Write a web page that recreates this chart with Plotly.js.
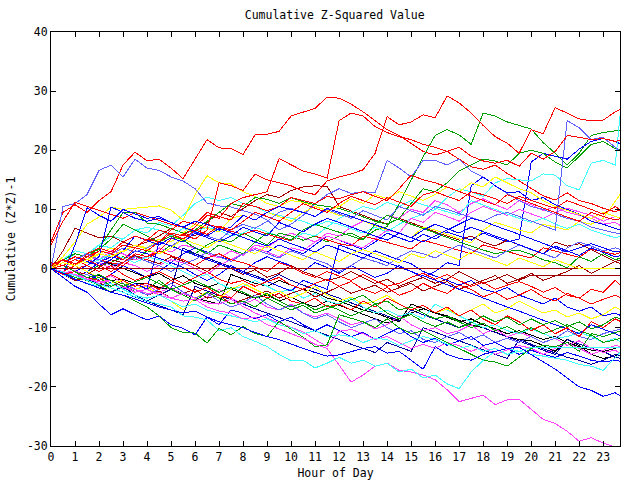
<!DOCTYPE html>
<html>
<head>
<meta charset="utf-8">
<script src="https://cdn.plot.ly/plotly-3.0.1.min.js"></script>
<style>
  html, body { margin: 0; padding: 0; background: #ffffff; }
  #chart { width: 640px; height: 480px; }
  .js-plotly-plot .scatterlayer path.js-line { shape-rendering: crispEdges; }
</style>
</head>
<body>
<div id="chart"></div>
<script>
// Sample times (hour of day)
const hours = [0,0.5,1,1.5,2,2.5,3,3.5,4,4.5,5,5.5,6,6.5,7,7.5,8,8.5,9,9.5,10,10.5,11,11.5,
  12,12.5,13,13.5,14,14.5,15,15.5,16,16.5,17,17.5,18,18.5,19,19.5,20,20.5,21,21.5,22,22.5,23,23.5,23.75];
const xTicks = [0,1,2,3,4,5,6,7,8,9,10,11,12,13,14,15,16,17,18,19,20,21,22,23];
const yTicks = [-30,-20,-10,0,10,20,30,40];

// Cumulative (Z*Z)-1 series
const red1 = [4.5,9.5,10.8,9.5,11.5,13,17.5,19.7, 18.2,18.5,17,15.2,18.5,21.8,20.4,20.3, 19.3,22.6,22.7,23.2,25.8,26.4,27.1,29, 28.8,27.8,26.5,25,23.5,22.5,21.2,19.8, 19.2,19.8,18.5,17.2,16.8,17.5,16.1,14.8, 13.5,12.3,11.6,12.8,11.5,11,10.2,9.6, 10];
const red2 = [4,8,11.2,10.5,9.8,9.2,8.5,9.5, 8.8,8.2,7.5,7,6.3,7.5,7,6.3, 5.8,6.5,5.8,5.2,4.7,6,5.5,4.8, 4.2,3.8,5.5,5,4.4,3.8,3.3,4.8, 4.2,3.7,3,2.5,4,3.5,2.9,2.3, 1.8,3.5,3,2.4,1.9,3.3,2.8,2.4, 2.8];
const red3 = [1,0.5,0,0.5,1.5,1,0.5,2, 1.5,3,5,5.8,5,6.5,14.5,14, 13.2,16,15,14.5,14,13,12.5,14.8, 15.5,16,16.7,19.5,25.7,24.3,24.8,26, 25.5,29.2,28,26.3,24.2,22.3,21.2,19.5, 23.5,22.8,27.2,26.3,25.3,25,25.1,26.5, 27];
const red4 = [0,-0.5,0.5,2,3,2.5,1.5,3.5, 3,4.5,6,5.5,7,9,8.5,11, 12,12.5,13,18.6,17.5,16.5,16,15.3, 25,26.3,25.8,24,23,22.3,21.8,21, 20.5,19.8,20.5,19,18.2,17.8,18.3,17.3, 19.5,18.5,19.8,22.5,22.2,21.8,22,21.5, 21.7];
const red5 = [0.5,1.5,0.8,1.5,3,2.5,4,3.5, 5,4.5,6.5,8,7.5,9.5,8.8,8.2, 11,10.5,9.8,10.5,12,11.5,11,12.2, 11.8,12.5,13,12.2,11.5,13.5,15.8,15, 14.5,13.8,13,12.2,11.5,10.8,12.5,11.8, 11,10.2,9.5,8.7,8,9.5,8.8,8.2, 8.5];
const red6 = [0,-1,-0.5,-1.5,-2,-1,-2,-3, -2.5,-3.5,-2,-3,-4,-3.2,-4.5,-5, -3,-4,-5,-4.2,-5.5,-6,-5,-6.5, -6,-7,-5.5,-6.5,-5,-6,-7,-6.2, -7.5,-6.5,-8,-7,-8.5,-9.5,-8,-9, -10.5,-9.5,-11,-10,-11.5,-9,-10,-8.5, -9];
const red7 = [0,1,2,1.5,0.5,-0.5,1,2.5, 2,3,2.2,1.5,0.5,1.8,2.5,1.5, 1,0.2,-0.5,1,0.3,-0.8,-1.5,-0.5, -1.2,-2,-1,-2,-3,-2.5,-1.5,-0.8, -1.8,-1,-2,-3,-2.3,-3.5,-2.8,-2.2, -3,-4,-3.2,-4.5,-5,-3.5,-4,-2, -3];
const red8 = [0,1.5,0.5,2.5,3.5,2.8,4.5,5.5, 4.8,6.5,5.8,5,6.5,5.8,7.2,6.5, 8,9.5,8.8,8,9.5,11,10.2,9.5, 11,12.2,11.5,10.8,12,11.2,10.5,12.5, 13,12.2,11.5,13,12.5,11.8,11,12.2, 11.5,10.8,10.2,11.5,10.8,10,9.2,10.5, 9.8];
const red9 = [0,0.5,1.5,0.5,-0.5,0.5,-1,-2, -1.2,-0.5,-1.5,-2.5,-1.5,-0.5,-1.8,-2.5, -2,-3,-2.2,-1.5,-2.8,-3.5,-2.5,-1.8, -3,-2.2,-3.5,-4.2,-3.2,-4.5,-3.8,-2.5, -3.5,-4.2,-2.8,-3.5,-4.8,-4,-5.2,-4.5, -3.5,-4.8,-5.5,-4.2,-5,-6,-5.2,-4.5, -5];

const green1 = [0,1,0.5,-0.5,0.5,1,2,1.5, 3,2.5,4,3,2.5,4,5,4.5, 6,5,4,6,5.5,4.8,5.5,4.5, 5.5,6,5,6.5,7.1,11,15,18.9, 22.5,23.5,22.6,21,26.3,25.8,24.8,24.2, 23.6,21.3,19.5,17.5,19.5,22.5,23,23.3, 23.4];
const green2 = [0.5,1.5,2.5,2,3.5,6.5,9.5,9.5, 7.7,7.5,6.8,6,6.5,8,9.5,11, 10.5,12,11.7,11,12,11.3,10.8,10.5, 10.2,9.5,8.7,8,7.5,8.5,11,13.5, 13,14.5,16.5,17.5,18.5,18.2,17.5,19.5, 20,19.5,18,17,19,21,21.5,20.3, 20];
const green3 = [0,0.5,1.5,2.5,3.2,5,7.5,6.5, 5.5,4.5,5.5,4.8,3.5,2.5,4,3.2, 2.5,4.5,6,5.5,4.8,6.5,7.5,6.8, 6.2,5.5,4.8,7.5,9,8.2,7.5,6.8, 6,5.2,4.5,3.8,3.2,2.5,2.9,3.1, 2.4,1.5,1,0.1,2,1.2,2.5,1.5, 1.8];
const green4 = [0,-1,-0.5,-2,-1.5,-3,-2.5,-4, -3.5,-2,-3.5,-4.5,-5.5,-4,-5,-6, -5.5,-6.5,-5,-6,-7,-6.2,-7.5,-6.8, -6,-5.2,-4.5,-6,-5.5,-7,-6.5,-7.5, -8.5,-8,-9,-10,-9.2,-10.5,-9.8,-10.8, -10,-11,-10.3,-9.5,-10.5,-11.2,-12.5,-12, -11.8];
const green5 = [0,0.5,-0.5,-1.5,-1,-2,-3,-2.2, -1.5,-2.5,-3.5,-2.8,-2,-3,-4,-3.2, -4,-5,-4.2,-5.5,-6.5,-5.8,-7,-6.2, -7,-8,-7.2,-6,-7.5,-8.5,-7.8,-9, -9.8,-9,-10,-9.2,-8,-9,-8.2,-9.5, -8.5,-9.5,-8.8,-9.8,-9,-10.2,-9.5,-8.2, -8.5];
const greenLow = [0,-0.8,-1.5,-2,-2.8,-4,-4.5,-5.5, -6.5,-8,-10,-10.8,-10.9,-12.6,-10.1,-11.2, -9.8,-11,-11.5,-8.9,-10.2,-11.6,-13.2,-12.9, -7.8,-8.4,-9,-10,-8.5,-10,-11,-10.5, -11.5,-12.5,-13.5,-14.5,-15.5,-15.8,-16.5,-15, -13.5,-13,-13.2,-12.5,-14,-11,-11.5,-10.8, -10.5];

const magenta1 = [0,1,0.5,2,1.5,3,2.5,1.5, 2,3.5,2.8,4,3.5,2.5,1.8,3, 2.2,4,3.5,5,6,5.2,4.5,6, 5.5,7,8,7.5,9,8.5,10,9.5, 11.5,10.8,9.5,11,11.8,10.8,10,11.5, 10.8,9.8,10.5,9.5,9,8.5,7.5,7.8, 7.2];
const magenta2 = [0,-0.5,0.5,1.5,1,0,1,0.5, -0.5,0.5,1.5,1,0,-1,0.5,1.5, 2.5,3.5,2.8,2,3.5,3,4.5,5.5, 4.8,4.2,3.5,5,6.5,6,8.5,7.8, 9.5,8.8,8,9.5,10.5,9.8,9,10, 9.2,8.5,9.5,10.2,9.6,9,8,8.8, 8.5];
const magenta3 = [0,-0.8,-0.3,-1.5,-2,-1.2,-2.5,-3.5, -2.8,-4,-3.2,-4.5,-5.5,-4.8,-3.5,-5, -6,-5.2,-6.5,-7,-6,-7.5,-8.2,-7.5, -8.5,-9.5,-9,-10.2,-9.5,-8,-9.5,-10.5, -10,-11,-10.5,-9.5,-11,-10.2,-11.5,-10.8, -11.5,-12.5,-11.8,-13,-12.2,-13.5,-14.2,-13.8, -14.5];
const magenta4 = [0,-0.5,-1,-1.5,-2.5,-2,-3,-4, -3.5,-4.5,-5,-4.2,-5,-5.8,-6,-5.2, -6.4,-7.5,-8.4,-9.2,-10,-10.7,-12,-13.2, -10.6,-10.3,-11,-12,-11.5,-12.5,-13.5,-12.8, -13.5,-12.5,-13,-14,-13.2,-14.5,-13.8,-13, -13.5,-14.5,-13.5,-12.5,-13.5,-14.5,-13.8,-13, -13.2];
const magentaLow = [0,-0.5,-1,-1.8,-2.2,-2,-3.2,-3.5, -4.2,-4,-5,-5.5,-5.2,-6.5,-7.2,-7.5, -8.5,-8.2,-9.5,-10.2,-11,-11.8,-12.8,-13.5, -16.3,-19.2,-18,-16.5,-16,-17.2,-17.5,-18, -18.8,-20.5,-22.5,-21.9,-21.4,-23,-22.2,-22.1, -23.8,-25.5,-26.2,-27.5,-29.2,-28.6,-29.5,-30.2, -30.8];

const cyan1 = [0,1,2.5,2,4,5.5,5,6.5, 6,7.8,7.2,9,11,12.1,11.5,12, 11,10.5,9.5,9,8.5,8,7.2,8, 7.5,6.8,6,7,6.2,7.5,8.5,9.2, 10,12,13.5,13,12.2,14.5,15.2,15, 14.8,16,15.8,14,13.3,17.8,18.3,17.5, 27.8];
const cyan2 = [0,1.5,3,2.5,4,3.5,5,6.5, 7,6.5,5.5,6.8,6.2,7,6.5,5.5, 6,7,6.2,5.5,4.8,6,5.5,7, 8.5,9.5,10.5,10,11.2,10.5,11.5,10.8, 10.2,9.5,9,11.5,10.8,10,9.2,8.5, 7.8,8.5,7.5,6.8,7.5,6.5,5.8,5.2, 5.5];
const cyan3 = [0,0.5,-0.5,0.5,1.5,2.5,1.8,1, 2,1.5,0.5,-0.5,-1.5,-1,-2.5,-3.5, -3,-2,-3,-4,-3.5,-5,-4.2,-5.5, -6,-5,-6.5,-7.5,-7,-8,-7.5,-8.5, -6,-7,-8,-9,-10,-9.5,-10.5,-11, -10.2,-11,-11.8,-11.5,-10.8,-11.5,-12.5,-11.8, -12.5];
const cyan4 = [0,-1,-1.8,-2.5,-3,-2.5,-3.5,-4.5, -5,-4.5,-5.5,-6.5,-6,-7,-7.5,-8, -8.5,-9,-8.5,-9.5,-10,-11,-10.5,-11.5, -11.2,-11.5,-12.5,-11.8,-12,-13,-12.2,-11.5, -12,-12.8,-13.5,-13,-14,-13.5,-14.5,-14, -14.5,-14.8,-15.2,-15.5,-16.2,-16.5,-17.2,-15, -14];
const cyanLow = [0,-0.6,-1.2,-2,-2.6,-3.3,-4,-4.8, -5.5,-6,-6.5,-8,-8.2,-8.7,-10.5,-10, -11.5,-12.3,-13.2,-14.5,-15.6,-15.5,-16.8,-16, -15,-16,-15.5,-16.5,-16,-17.5,-17,-18.5, -18,-19.5,-20.3,-17.5,-15.5,-14,-13.5,-14, -13.3,-13.3,-13.3,-13.3,-13.3,-13.3,-13.3,-13.3, -13.3];

const yellow1 = [0,2,4.5,7.5,8.7,10.4,10,10.2, 10.5,10.6,9.9,8.2,12.5,15.7,14.5,14.3, 13,12.2,11,10.5,11.5,11.2,10.5,9.8, 9,8.8,8,7.2,6.5,6,5.2,7, 6.5,5.8,5,4.3,6.5,7.8,7.2,6.5, 6,7.5,7,6.5,8,7.5,8.5,11.5, 12.8];
const yellow2 = [0,0.5,1.5,1,2.5,3.5,2.8,4, 3.5,5,4.5,6,7.5,6.8,6.2,8.5, 9,8.2,9.5,8.8,8,9.5,10.5,9.8, 10.5,11.8,11,12.5,11.8,13,12.2,11.5, 12.5,13.8,13,14.5,13.8,15.5,14.5,13.5, 12.8,11.5,10.5,9.8,9.2,8.5,9.5,8.8, 8.5];
const yellow3 = [0,-0.5,0.5,-0.5,-1.5,-2.5,-2,-3.5, -3,-4.5,-5.5,-7,-5,-4,-5,-3.5, -2.5,-3.5,-4.5,-3.8,-5,-4.2,-3,-4.5, -5.5,-4.8,-6,-5.5,-4.5,-6,-7,-6.2, -7.5,-6.8,-8,-7,-6,-7.5,-6.8,-5.5, -6.5,-7.5,-7,-8.2,-7.5,-8.5,-7.8,-6.5, -7];
const yellow4 = [0,1,0.5,1.5,2.5,2,3,4, 3.2,2.5,3.5,5,4.2,3.5,4.8,4, 3.2,2.5,3.8,3,2.2,1.5,2.8,2, 1.2,2.5,3.2,2.5,1.8,1,2.5,1.8, 3,2.2,1.5,2.8,2,1.2,0.5,1.8, 1,0.3,1.5,0.8,0,0,0,0, 0];

const darkred1 = [0,0,0,0,0,0,0,0, 0,0,0,0,0,0,0,0, 0,0,0,0,0,0,0,0, 0,0,0,0,0,0,0,0, 0,0,0,0,0,0,0,0, 0,0,0,0,0,0,0,0, 0];
const darkred2 = [0,0.5,-0.5,-1,0.2,1.5,1,2.2, 1.5,0.8,2,1.2,0.5,-0.5,0.8,0, -1,-0.2,-1.5,-0.8,0.5,-0.5,-1.2,-2, -1.5,-0.5,-1.5,-2.5,-1.8,-3,-2.2,-1.5, -2.5,-1.8,-0.5,-1.5,-2.5,-1.8,-1,-2, -1.1,-1.1,-1.1,-1.1,-1.1,-1.1,-1.1,-1.1, -1.1];
const darkred3 = [0,3,6.8,6,5.2,5.5,4.5,3.8, 4.5,5.5,6.8,6,5.5,7.8,9.5,8.8, 10.2,11.5,12.5,12,13.2,13.8,14,13.9, 10.5,9.8,9,8.2,7.5,8.5,7.8,7, 6.2,5.5,4.8,5.5,4.5,3.8,4.8,4, 3.2,2.5,4.5,3.8,4.2,3.2,2.2,1.2, 1.5];
const darkred4 = [0,-1,-2,-1.5,-2.5,-3,-2,-3.5, -4.5,-3.8,-5,-4.2,-3.5,-5,-4.5,-6, -5.2,-4.5,-3.8,-5,-4.2,-3.5,-4.8,-4, -3,-4.2,-3.5,-2.8,-4,-3.2,-2.5,-3.8, -3,-2.2,-3.5,-2.8,-2,-1.2,-2.5,-1.8, -0.8,-2,-1.2,-0.5,0.5,-0.8,0.2,1.2, 0.8];

const lightblue1 = [0,10.5,11,12.5,16.6,17.5,15.5,18.5, 17,16.6,15.5,14.8,13.5,11.1,10.6,10.4, 9.8,9.2,8.2,6.5,7.5,9,11,12.5, 13.5,12.7,13,12.8,18.3,17,15.5,18.3, 18.3,17.5,18.5,16.5,15.5,14,12.7,11.5, 10.5,10,9.2,8.5,8,7,6.5,6, 5.8];
const lightblue2 = [0,-0.5,0.5,1.5,1,2.5,3.5,2.8, 3.5,4.5,3.8,5,6.2,5.5,4.8,6.5, 7.5,6.8,8,9.5,10.2,9.5,8.8,10, 9.2,8.5,9.8,9,8.2,10.5,9.8,9, 10.5,10,9.3,8.7,8,9,9.5,8.8, 8,7.2,6.5,25,23.8,21.8,22.2,20.5, 19.8];
const lightblue3 = [0,-0.5,-1.5,-1,-2,-3,-2.5,-3.5, -4.5,-3.5,-2.5,-4,-5,-4.2,-5.5,-6.5, -5.8,-4.5,-6,-7,-6.2,-7.5,-8.5,-7.8, -9,-10,-9.2,-8.5,-10,-11,-10.5,-12, -12.5,-11.5,-10.8,-12,-11.2,-12.5,-11.8,-12.5, -11.5,-12.5,-11.8,-10.5,-11.5,-12,-11,-10.5, -10.2];
const lightblue4 = [0,0.5,1.5,2.5,1.5,0.5,1,2, 1.2,0.5,-0.5,0.8,1.5,2.8,2,1.2, 2.5,3.2,2.5,1.8,3,2.2,1.5,0.8, -0.5,0.5,1.8,1.2,0.5,2,3,2.5, 1.8,3,4,3.2,2.5,1.8,3,4, 3.2,2.5,1.8,3.5,4.5,3.8,3,3.5, 3.2];

const blue1 = [0,1,0.5,-0.5,1,2,1.5,3, 2.5,1.8,1,2.5,3.5,2.8,2,1.5, 2.5,3.5,2.8,4,3.2,2.5,4,5.5, 4.8,4,3.2,4.5,6,5.2,4.5,5.8, 5,6.2,5.5,4.8,6,5.2,4.5,5, 18,19.5,19,18.5,20.2,21.5,22,21.5, 21];
const blue2 = [0,-0.5,-1.5,-0.5,-2,-1,0.5,-0.5, -1.5,-0.5,1,0.2,-1,-2,-1,0.5, -0.5,1,2,1.2,0.5,-0.5,1,0.2, -0.8,0.5,-0.5,-1.5,-0.8,0.5,-0.5,-1.5, -0.5,1,0.5,14,15.5,14,12.8,13, 11.5,12,10.8,10,9.2,8,7.5,6.8, 6.5];
const blue3 = [0,-1,4,10.3,9,8,10,9.3, 8.5,8.8,7.8,7,6.2,5.5,6.8,6, 5.2,4.5,3.8,5,4.2,3.5,2.8,4, 3.2,2.5,1.8,3,2.2,1.5,0.8,-0.5, -1.2,-2,-2.8,-2,-3.5,-4,-3.2,-4.5, -5.2,-6,-5,-6.5,-7.2,-6.5,-8,-7.5, -8];
const blue4 = [0,-0.5,-1.2,-2,-1,-2.5,-3.5,-2.5, -3.5,4.5,3.8,3,2.2,1.5,0.8,0, -0.8,-1.5,-2.2,-3,-3.8,-2,-2.8,-3.5, 4,3.2,2.5,1.8,1,0.2,-0.5,-1.2, -2,-2.8,-3.5,-4.2,-5,-5.8,-6.5,-7.2, -8,-8.8,-9.5,-10.2,-11,-9.5,-10.2,-11, -11.5];
const blue5 = [0,0.5,-0.5,0.5,2,10.4,9.5,8.5, 8,8.5,7.8,7,8,7.5,6.5,7, 9,8.2,9.5,10.5,10,9.5,8.8,10.2, 9.5,8.8,8.2,7.5,6.8,6,5.2,4.5, 5.5,6.5,7.5,8.5,8,7.2,6.5,5.8, 5,4.2,3.5,2.8,3.5,4.2,3.5,2.8, 3];
const blue6 = [0,1,2,1.2,0.5,1.5,3,5.5, 4.8,4,5.2,4.5,6,5.2,4.5,5.5, 7,6.2,5.5,7.8,7,6.2,7.5,8.5, 7.8,7,6.2,5.5,4.8,6,5.2,6.5, 7.5,6.8,6,7,6.2,5.5,4.8,4, 3.2,2.5,3.8,3,2.2,3.5,2.8,2, 2.2];
const blueA = [0,-1.5,-3,-4,-6,-7.8,-6.8,-7.8, -8.7,-8,-9.5,-10.1,-11.2,-8.2,-9.5,-7, -7.5,-8.5,-7.8,-9,-8.2,-9.5,-10.5,-9.5, -10.5,-11.5,-10.8,-12,-11,-10,-11.5,-12.5, -11.8,-13,-12.2,-11.5,-13,-12.5,-13.5,-14.5, -13.8,-14.5,-15,-14.2,-14.8,-15.5,-15.8,-15.5, -15.7];
const blueLow = [0,-0.8,-1.8,-2.5,-3.2,-4,-4.5,-5.2, -5.8,-6.5,-7,-7.5,-7.2,-8.2,-9,-9.5, -10,-10.8,-11.5,-12,-12.8,-13.5,-14.2,-14.8, -14.6,-14,-13.5,-13.2,-14.3,-14,-15.5,-17, -13.2,-14.5,-15.2,-15.5,-14.5,-14,-13.5,-13.3, -14.5,-15.8,-17,-18.5,-20,-20.6,-21.6,-21, -21.6];
const navy1 = [0,-1,-2,-1.5,-3,-4,-3,-4.5, -5.5,-4.5,-3.5,3.5,2.5,1.8,1,0.2, -0.5,-1.2,-2,-1,-2,-2.8,-3.5,-4.2, -5,-5.8,-6.5,-7.2,-8,-8.8,-7,-7.8, -8.5,-9.2,-10,-9,-10,-10.8,-11.5,-12.2, -13,-13.8,-14.5,-12,-12.8,-13.5,-14,-15, -15.2];
const navy2 = [0,-0.5,-1,-1.8,-2.5,-3.2,-4,-4.8, -5.5,-6.2,-7,-7.8,-3,-3.8,-4.5,-5.2, -6,-6.8,-7.5,-8.2,-9,-9.8,-10.5,-11.2, -12,-12.8,-13.5,-14.2,-12.5,-13.2,-14,-10, -10.8,-11.5,-12.2,-13,-13.8,-14.5,-15.2,-12, -12.8,-13.5,-14.2,-15,-15.5,-16.2,-15.5,-14.5, -14.8];

const black1 = [0,-0.5,-1,-1.5,-1.2,-2,-1.8,-2.5, -2.5,-3.2,-3.5,-4.2,-5,-5.5,-6,-1, -1.8,-2.5,-3,-2,-2.8,-3.5,-4,-5, -5.5,-6.2,-7,-7.5,-8.2,-9,-6,-6.8, -7.5,-8,-8.8,-9.5,-10,-10.8,-11.5,-12, -12.2,-13,-14,-12,-13,-14.5,-15.2,-14.8, -14.2];
const black2 = [0,0.5,-0.5,0.5,1.5,0.8,0,-0.8, -1.5,-0.8,-2,-1.2,-2.5,-3.2,-2.5,-3.5, -4.2,-5,-4.5,-5.5,-4.8,-5.8,-6.5,-5.5, -6.2,-7,-7.8,-8.5,-9.2,-8.5,-7.5,-6.8, -7.5,-8.2,-9,-8.5,-9.5,-10.2,-11,-10.5, -11.2,-12,-11.5,-12.5,-13.2,-13.8,-14,-13.5, -13];

// Drawing order with line colours (style only)
const plotOrder = [
  [red1, '#ff0000'], [green1, '#00a000'], [blue1, '#0000ff'], [magenta1, '#ff40ff'], [cyan1, '#40ffff'],
  [darkred3, '#a00000'], [yellow1, '#ffff00'], [lightblue1, '#6060ff'], [black1, '#000000'], [navy1, '#0000a0'],
  [red2, '#ff0000'], [green2, '#00a000'], [blue2, '#0000ff'], [magenta2, '#ff40ff'], [cyan2, '#40ffff'],
  [darkred2, '#a00000'], [yellow2, '#ffff00'], [lightblue2, '#6060ff'], [black2, '#000000'], [navy2, '#0000a0'],
  [red3, '#ff0000'], [green3, '#00a000'], [blue3, '#0000ff'], [magenta3, '#ff40ff'], [cyan3, '#40ffff'],
  [darkred4, '#a00000'], [yellow3, '#ffff00'], [lightblue3, '#6060ff'], [blueA, '#0000ff'],
  [red4, '#ff0000'], [green4, '#00a000'], [blue4, '#0000ff'], [magenta4, '#ff40ff'], [cyan4, '#40ffff'],
  [lightblue4, '#6060ff'], [red5, '#ff0000'], [greenLow, '#00a000'], [blue5, '#0000ff'], [magentaLow, '#ff40ff'],
  [cyanLow, '#40ffff'], [red6, '#ff0000'], [green5, '#00a000'], [blue6, '#0000ff'], [red7, '#ff0000'],
  [blueLow, '#0000ff'], [red8, '#ff0000'], [red9, '#ff0000'], [darkred1, '#a00000'], [yellow4, '#ffff00']
];

const traces = plotOrder.map(([vals, col]) => ({
  x: hours, y: vals, type: 'scatter', mode: 'lines',
  line: { color: col, width: 1 }, hoverinfo: 'skip', showlegend: false
}));

const monoFont = { family: 'DejaVu Sans Mono, monospace', size: 11.5, color: '#000000' };

const layout = {
  width: 640, height: 480,
  margin: { l: 51, r: 20, t: 32, b: 34, pad: 0 },
  paper_bgcolor: '#ffffff', plot_bgcolor: '#ffffff',
  showlegend: false,
  font: monoFont,
  title: { text: 'Cumulative Z-Squared Value', font: monoFont, x: 0.523, xanchor: 'center', y: 0.969, yanchor: 'middle', yref: 'container' },
  xaxis: {
    range: [0, 23.7], tickvals: xTicks, ticktext: xTicks.map(String),
    ticks: 'inside', ticklen: 5, tickcolor: '#000000', tickwidth: 1,
    showline: true, linecolor: '#000000', linewidth: 1, mirror: 'ticks',
    showgrid: false, zeroline: false, tickfont: monoFont,
    title: { text: 'Hour of Day', font: monoFont, standoff: 7 }
  },
  yaxis: {
    range: [-30, 40], tickvals: yTicks, ticktext: yTicks.map(String),
    ticks: 'inside', ticklen: 5, tickcolor: '#000000', tickwidth: 1,
    showline: true, linecolor: '#000000', linewidth: 1, mirror: 'ticks',
    showgrid: false, zeroline: false, tickfont: monoFont,
    title: { text: 'Cumulative (Z*Z)-1', font: monoFont, standoff: 8 }
  }
};

Plotly.newPlot('chart', traces, layout, { staticPlot: true, displayModeBar: false });
</script>
</body>
</html>
